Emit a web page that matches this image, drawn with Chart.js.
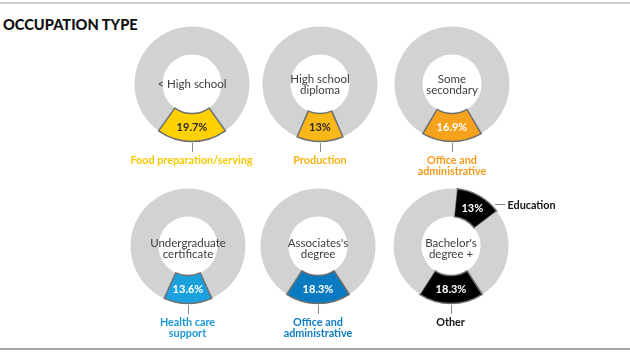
<!DOCTYPE html>
<html>
<head>
<meta charset="utf-8">
<script src="https://cdn.jsdelivr.net/npm/chart.js@4.4.1/dist/chart.umd.min.js"></script>
<style>
  html, body { margin: 0; padding: 0; background: #fff; }
  body { width: 630px; height: 354px; position: relative; overflow: hidden; font-family: Lato, "Open Sans", sans-serif; }
  .rule { position: absolute; left: 0; width: 630px; height: 2px; }
  #title { position: absolute; left: 3px; top: 16px; font-size: 14.6px; font-weight: 900; color: #111; letter-spacing: 0px; }
  .box { position: absolute; width: 130px; height: 130px; }
  .lab { position: absolute; width: 160px; text-align: center; font-size: 10.8px; font-weight: 700; line-height: 11px; white-space: pre; }
  .tick { position: absolute; width: 1px; background: #8a8a8a; }
  .dash { position: absolute; height: 1px; background: #8a8a8a; }
</style>
</head>
<body>
<div class="rule" style="top:2px;background:#cfcfcf"></div>
<div class="rule" style="top:348px;background:#a8a8a8"></div>
<div id="title">OCCUPATION TYPE</div>

<script>
// ---- data ----
const degreeLevels = ['< High school', 'High school\ndiploma', 'Some\nsecondary', 'Undergraduate\ncertificate', "Associates's\ndegree", "Bachelor's\ndegree +"];
const topOccupations = ['Food preparation/serving', 'Production', 'Office and\nadministrative', 'Health care\nsupport', 'Office and\nadministrative', 'Other'];
const topShares = [19.7, 13, 16.9, 13.6, 18.3, 18.3];
// Bachelor's degree + has a second highlighted occupation
const secondOccupation = 'Education';
const secondShare = 13;
const bachelorsGapShare = 26.2; // grey share lying between "Education" and "Other"
const segmentColors = ['#ffd100', '#f9b818', '#f6a21d', '#1ba1de', '#0a7bc1', '#000000'];
const labelColors = ['#f6c900', '#f4b30f', '#f39a1c', '#1b98d5', '#0d7bc1', '#111111'];
const pctTextColors = ['#2b2b2b', '#2b2b2b', '#ffffff', '#ffffff', '#ffffff', '#ffffff'];

const centers = [[191.5, 84], [320, 84], [452, 84], [187.5, 245.5], [318, 245.5], [450.5, 245.5]];
const GREY = '#d1d2d4';

const centerText = {
  id: 'centerText',
  afterDatasetsDraw(chart, args, opts) {
    const ctx = chart.ctx;
    const meta = chart.getDatasetMeta(0);
    const arc0 = meta.data[0];
    const cx = arc0.x, cy = arc0.y;
    ctx.save();
    ctx.textAlign = 'center';
    ctx.textBaseline = 'middle';
    ctx.fillStyle = '#3d3d3d';
    ctx.font = '400 11.5px Lato, "Open Sans", sans-serif';
    const lines = opts.title.split('\n');
    const lh = 11;
    lines.forEach((l, i) => ctx.fillText(l, cx, cy + opts.dy + (i - (lines.length - 1) / 2) * lh));
    ctx.font = '700 11px Lato, "Open Sans", sans-serif';
    const ds = chart.data.datasets[0];
    meta.data.forEach((el, i) => {
      const lbl = ds.pctLabels[i];
      if (!lbl) return;
      const p = el.getCenterPoint();
      ctx.fillStyle = opts.pctColor;
      ctx.fillText(lbl, p.x, p.y);
    });
    ctx.restore();
  }
};

function makeChart(i, values, colors, borders, widths, pctLabels, rotation) {
  const [cx, cy] = centers[i];
  const box = document.createElement('div');
  box.className = 'box';
  box.style.left = (cx - 65) + 'px';
  box.style.top = (cy - 65) + 'px';
  const cv = document.createElement('canvas');
  box.appendChild(cv);
  document.body.appendChild(box);
  new Chart(cv, {
    type: 'doughnut',
    data: {
      datasets: [{
        data: values,
        backgroundColor: colors,
        borderColor: borders,
        borderWidth: widths,
        borderJoinStyle: 'miter',
        pctLabels: pctLabels
      }]
    },
    options: {
      responsive: true,
      maintainAspectRatio: false,
      animation: false,
      events: [],
      radius: 57.5,
      cutout: 33,
      rotation: rotation,
      layout: { padding: 0 },
      plugins: {
        legend: { display: false },
        tooltip: { enabled: false },
        centerText: { title: degreeLevels[i], dy: i >= 3 ? 2.5 : 0.5, pctColor: pctTextColors[i] }
      }
    },
    plugins: [centerText]
  });
}

for (let i = 0; i < 5; i++) {
  const s = topShares[i];
  makeChart(i, [100 - s, s], [GREY, segmentColors[i]], [GREY, '#6f6f6f'], [0, 1.5],
    ['', s + '%'], 180 + s * 1.8);
}
// Bachelor's: [education, gap, other, rest]
{
  const other = topShares[5];
  const rest = 100 - secondShare - bachelorsGapShare - other;
  const rot = 180 - other * 1.8 - (secondShare + bachelorsGapShare) * 3.6;
  makeChart(5, [secondShare, bachelorsGapShare, other, rest],
    [segmentColors[5], GREY, segmentColors[5], GREY],
    ['#6f6f6f', GREY, '#6f6f6f', GREY], [1.5, 0, 1.5, 0],
    [secondShare + '%', '', other + '%', ''], rot);
}

centers.forEach(([cx, cy], i) => {
  const t = document.createElement('div');
  t.className = 'tick';
  t.style.left = Math.round(cx) + 'px';
  t.style.top = (cy + 59) + 'px';
  t.style.height = '9px';
  document.body.appendChild(t);
  const d = document.createElement('div');
  d.className = 'lab';
  d.textContent = topOccupations[i];
  d.style.color = labelColors[i];
  d.style.left = (cx - 80) + 'px';
  d.style.top = (cy + 70) + 'px';
  document.body.appendChild(d);
});
{
  const [cx, cy] = centers[5];
  const dsh = document.createElement('div');
  dsh.className = 'dash';
  dsh.style.left = (cx + 44) + 'px';
  dsh.style.top = (cy - 42) + 'px';
  dsh.style.width = '10px';
  document.body.appendChild(dsh);
  const e = document.createElement('div');
  e.className = 'lab';
  e.style.width = 'auto';
  e.style.textAlign = 'left';
  e.textContent = secondOccupation;
  e.style.color = labelColors[5];
  e.style.left = (cx + 57) + 'px';
  e.style.top = (cy - 47) + 'px';
  document.body.appendChild(e);
}
</script>
</body>
</html>
